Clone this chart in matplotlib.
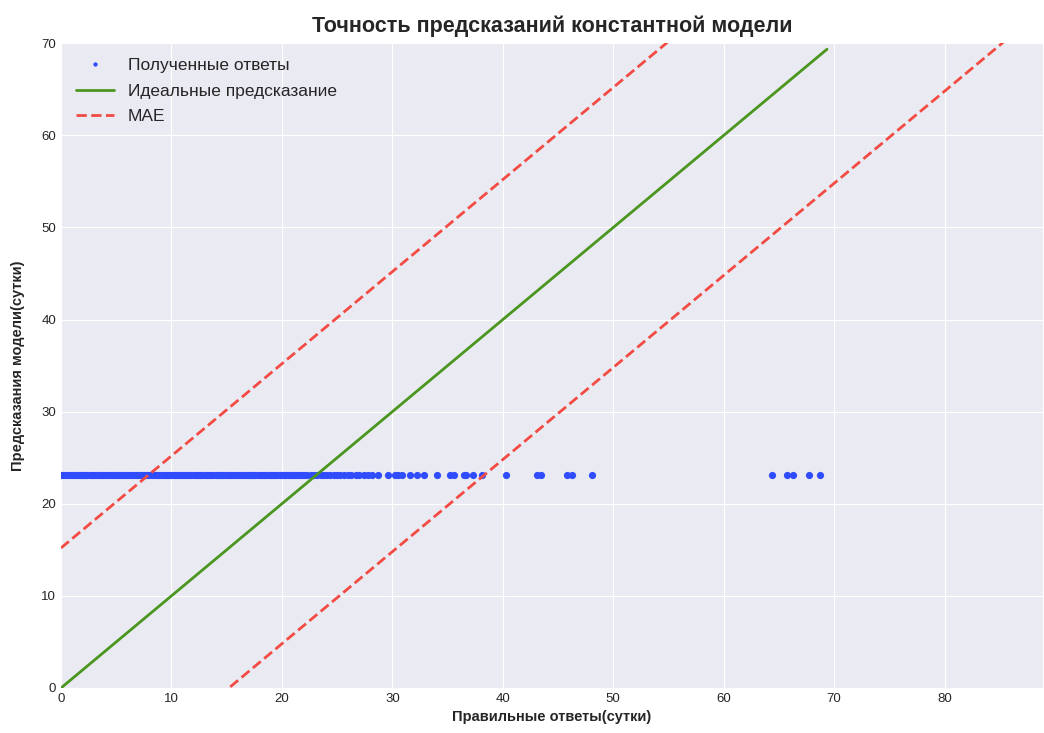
import matplotlib
matplotlib.use("Agg")
import matplotlib.pyplot as plt

# true answers (days)
true_days = [
    0.0, 0.2, 0.4, 0.6, 0.8, 1.0, 1.2, 1.4, 1.6, 1.8, 2.0, 2.2, 2.4, 2.6, 2.8,
    3.0, 3.2, 3.4, 3.6, 3.8, 4.0, 4.2, 4.4, 4.6, 4.8, 5.0, 5.2, 5.4, 5.6, 5.8,
    6.0, 6.2, 6.4, 6.6, 6.8, 7.0, 7.2, 7.4, 7.6, 7.8, 8.0, 8.2, 8.4, 8.6, 8.8,
    9.0, 9.2, 9.4, 9.6, 9.8, 10.0, 10.2, 10.4, 10.6, 10.8, 11.0, 11.2, 11.4,
    11.6, 11.8, 12.0, 12.2, 12.4, 12.6, 12.8, 13.0, 13.2, 13.4, 13.6, 13.8,
    14.0, 14.2, 14.4, 14.6, 14.8, 15.0, 15.2, 15.4, 15.6, 15.8, 16.0, 16.2,
    16.4, 16.6, 16.8, 17.0, 17.2, 17.4, 17.6, 17.8, 18.0, 18.2, 18.4, 18.6,
    18.8, 19.0, 19.2, 19.4, 19.6, 19.8, 20.0, 20.2, 20.4, 20.6, 20.8, 21.0,
    21.2, 21.4, 21.6, 21.8, 22.0, 22.3, 22.6, 22.9, 23.2, 23.5, 23.8, 24.1,
    24.4, 24.7, 25.0, 25.3, 25.6, 26.0, 26.3, 26.7, 27.0, 27.4, 27.8, 28.2,
    28.7, 29.6, 30.2, 30.5, 30.9, 31.6, 32.2, 32.9, 34.0, 35.2, 35.6,
    36.5, 36.7, 37.3, 38.1, 40.3, 43.1, 43.5, 45.8, 46.3, 48.1,
    64.4, 65.7, 66.3, 67.7, 68.7,
]
constant_pred = 23.1
mae = 15.2
ideal_end = 69.35
line_x = [0, 100]

plt.style.use("seaborn-v0_8-darkgrid")
plt.rcParams["font.family"] = ["Liberation Sans", "DejaVu Sans"]

fig = plt.figure(figsize=(10.44, 7.33), dpi=100)
ax = fig.add_axes([0.0584, 0.0614, 0.9406, 0.8796])

ax.plot(true_days, [constant_pred] * len(true_days), "o", color="#2f4cff",
        markersize=5.2, markeredgewidth=0, label="Полученные ответы")
ax.plot([0, ideal_end], [0, ideal_end], color="#4a961e", linewidth=2,
        label="Идеальные предсказание")
ax.plot(line_x, [x + mae for x in line_x], "--", color="#f24b43", linewidth=2,
        label="MAE")
ax.plot(line_x, [x - mae for x in line_x], "--", color="#f24b43", linewidth=2)

ax.set_xlim(0, 88.9)
ax.set_ylim(0, 70)
ax.set_xticks(range(0, 90, 10))
ax.set_yticks(range(0, 80, 10))
ax.tick_params(labelsize=9.5, colors="#262626")

ax.set_title("Точность предсказаний константной модели", fontsize=15.5,
             fontweight="bold", pad=8)
ax.set_xlabel("Правильные ответы(сутки)", fontsize=10.5, fontweight="bold")
ax.set_ylabel("Предсказания модели(сутки)", fontsize=10.5, fontweight="bold",
              labelpad=12)
ax.legend(loc="upper left", fontsize=12.5, frameon=False, numpoints=1,
          markerscale=0.6, handlelength=2.2, borderaxespad=0.45,
          labelspacing=0.6)

fig.savefig("out.png", dpi=100)
